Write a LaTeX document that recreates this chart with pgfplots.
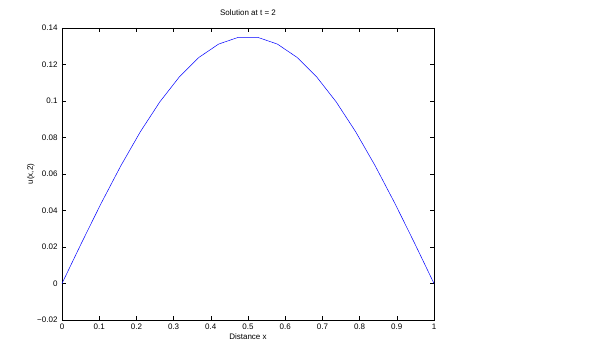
\documentclass[border=0pt]{standalone}
\usepackage{fontspec}
\setmainfont{Liberation Sans}
\usepackage{pgfplots}
\pgfplotsset{compat=1.18}
\begin{document}
\begin{tikzpicture}
\begin{axis}[
  scale only axis,
  width=372pt, height=292pt,
  xmin=0, xmax=1, ymin=-0.02, ymax=0.14,
  xtick={0,0.1,...,1.0},
  xticklabels={0,0.1,0.2,0.3,0.4,0.5,0.6,0.7,0.8,0.9,1},
  ytick={-0.02,0,0.02,0.04,0.06,0.08,0.1,0.12,0.14},
  yticklabels={\char"2212 0.02,0,0.02,0.04,0.06,0.08,0.1,0.12,0.14},
  tick align=inside,
  major tick length=4pt,
  axis line style={line width=0.6pt},
  tick style={line width=0.5pt, black},
  ticklabel style={font=\fontsize{8}{9}\selectfont},
  yticklabel style={xshift=-1pt},
  title={Solution at t = 2},
  title style={font=\fontsize{8}{9}\selectfont, at={(axis description cs:0.5,1)}, anchor=south, yshift=3pt},
  xlabel={Distance x},
  ylabel={u(x,2)},
  label style={font=\fontsize{8}{9}\selectfont},
  xlabel style={at={(axis description cs:0.5,0)}, anchor=north, yshift=-10pt},
  ylabel style={at={(axis description cs:0,0.5)}, anchor=south, yshift=24pt},
]
\addplot[blue, line width=0.5pt] coordinates {
(0.00000,0.00000) (0.05263,0.02227) (0.10526,0.04394) (0.15789,0.06441)
(0.21053,0.08312) (0.26316,0.09957) (0.31579,0.11330) (0.36842,0.12394)
(0.42105,0.13119) (0.47368,0.13487) (0.52632,0.13487) (0.57895,0.13119)
(0.63158,0.12394) (0.68421,0.11330) (0.73684,0.09957) (0.78947,0.08312)
(0.84211,0.06441) (0.89474,0.04394) (0.94737,0.02227) (1.00000,0.00000)
};
\end{axis}
\path[use as bounding box] ([shift={(-62pt,-44pt)}]current axis.south west) rectangle ([shift={(166pt,28pt)}]current axis.north east);
\end{tikzpicture}
\end{document}
